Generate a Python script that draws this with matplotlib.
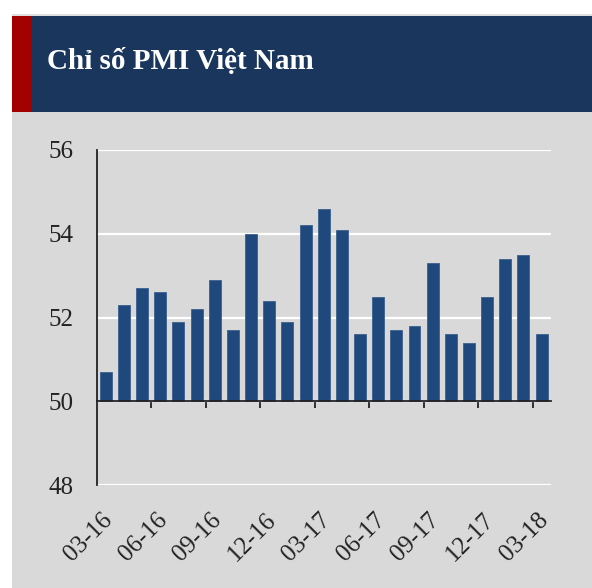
import matplotlib
matplotlib.use("Agg")
import matplotlib.pyplot as plt
from matplotlib.patches import Rectangle

months = ["03-16", "04-16", "05-16", "06-16", "07-16", "08-16", "09-16", "10-16",
          "11-16", "12-16", "01-17", "02-17", "03-17", "04-17", "05-17", "06-17",
          "07-17", "08-17", "09-17", "10-17", "11-17", "12-17", "01-18", "02-18", "03-18"]
pmi = [50.7, 52.3, 52.7, 52.6, 51.9, 52.2, 52.9, 51.7, 54.0, 52.4, 51.9, 54.2,
       54.6, 54.1, 51.6, 52.5, 51.7, 51.8, 53.3, 51.6, 51.4, 52.5, 53.4, 53.5, 51.6]
yticks = [48, 50, 52, 54, 56]
title = "Chỉ số PMI Việt Nam"

W, H = 592, 588
fig = plt.figure(figsize=(W / 100, H / 100), dpi=100)
fig.patch.set_facecolor("white")

# background panels
fig.add_artist(Rectangle((12 / W, 1 - 588 / H), (W - 12) / W, (588 - 112) / H,
                         transform=fig.transFigure, facecolor="#d9d9d9", edgecolor="none", zorder=0))
fig.add_artist(Rectangle((12 / W, 1 - 16 / H), (W - 12) / W, 2 / H,
                         transform=fig.transFigure, facecolor="#e0e0e0", edgecolor="none", zorder=0))
fig.add_artist(Rectangle((12 / W, 1 - 112 / H), (W - 12) / W, (112 - 16) / H,
                         transform=fig.transFigure, facecolor="#1a365d", edgecolor="none", zorder=1))
fig.add_artist(Rectangle((12 / W, 1 - 112 / H), 20 / W, (112 - 16) / H,
                         transform=fig.transFigure, facecolor="#a30000", edgecolor="none", zorder=2))
fig.text(47 / W, 1 - 69 / H, title, color="white", fontsize=21, fontweight="bold",
         family=["Liberation Serif", "DejaVu Serif"], ha="left", va="baseline", zorder=3)

ax = fig.add_axes([96.7 / W, 1 - 485 / H, (550.7 - 96.7) / W, (485 - 150) / H])
ax.set_facecolor("none")
ax.patch.set_alpha(0)

x = list(range(len(months)))
ax.bar(x, [v - 50 for v in pmi], bottom=50, width=0.66, color="#1f497d",
       edgecolor="#3a5f8f", linewidth=0.6, zorder=3)

ax.set_xlim(-0.5, len(months) - 0.5)
ax.set_ylim(48, 56)
ax.set_yticks(yticks)
ax.yaxis.grid(True, color="white", linewidth=1.6, zorder=1)
ax.set_axisbelow(True)
ax.tick_params(axis="y", length=0, pad=17, labelsize=18)
for lab in ax.get_yticklabels():
    lab.set_family(["Liberation Serif", "DejaVu Serif"])
    lab.set_color("#222222")

for s in ["top", "right"]:
    ax.spines[s].set_visible(False)
ax.spines["left"].set_color("#222222")
ax.spines["left"].set_linewidth(1.3)
ax.spines["bottom"].set_position(("data", 50))
ax.spines["bottom"].set_color("#222222")
ax.spines["bottom"].set_linewidth(1.3)
ax.spines["bottom"].set_zorder(4)

tick_pos = [i - 0.5 for i in range(3, len(months), 3)]
ax.set_xticks(tick_pos)
ax.set_xticklabels([""] * len(tick_pos))
ax.tick_params(axis="x", direction="out", length=5, width=1.3, color="#222222")

for i in range(0, len(months), 3):
    ax.annotate(months[i], xy=(i, 48), xycoords="data", xytext=(-3, -17),
                textcoords="offset points", rotation=45, ha="right", va="top",
                rotation_mode="anchor", fontsize=18, color="#222222",
                family=["Liberation Serif", "DejaVu Serif"], annotation_clip=False)

fig.savefig("out.png", dpi=100, facecolor=fig.get_facecolor())
